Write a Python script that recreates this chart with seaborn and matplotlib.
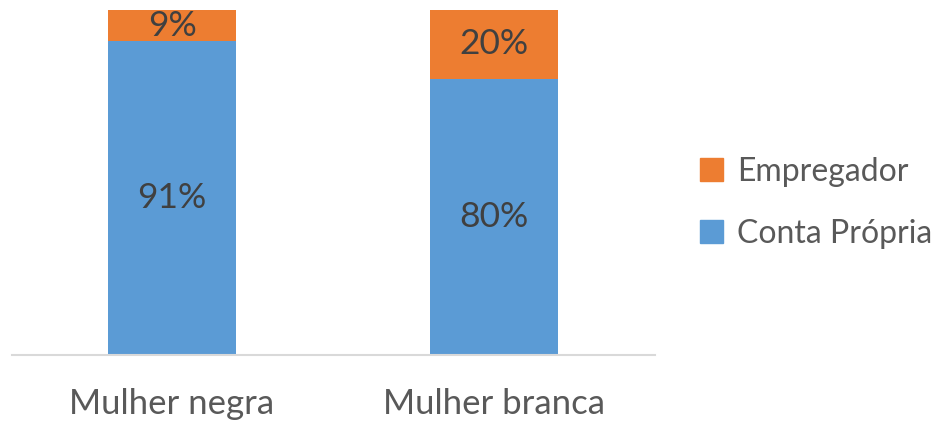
import pandas as pd
import matplotlib.pyplot as plt
import seaborn as sns
from matplotlib.patches import Patch

# Data
categories = ["Mulher negra", "Mulher branca"]
conta_propria = [91, 80]
empregador = [9, 20]

blue = "#5B9BD5"
orange = "#ED7D31"

sns.set_theme(style="white")
plt.rcParams["font.family"] = ["Lato", "DejaVu Sans"]

df = pd.DataFrame({
    "categoria": categories,
    "conta": conta_propria,
    "empregador": empregador,
})
df["total"] = df["conta"] + df["empregador"]

fig = plt.figure(figsize=(9.45, 4.22), dpi=100)
ax = fig.add_axes([12 / 945, 67 / 422, 643 / 945, 345 / 422])

# Stacked bars: total in orange, own-account on top in blue
sns.barplot(data=df, x="categoria", y="total", color=orange, width=0.4,
            saturation=1, linewidth=0, ax=ax)
sns.barplot(data=df, x="categoria", y="conta", color=blue, width=0.4,
            saturation=1, linewidth=0, ax=ax)

for i, row in df.iterrows():
    ax.text(i, row["conta"] / 2, f"{row['conta']}%", ha="center", va="center",
            fontsize=25.5, color="#404040")
    ax.text(i, row["conta"] + row["empregador"] / 2, f"{row['empregador']}%",
            ha="center", va="center", fontsize=25.5, color="#404040")

ax.set_xlim(-0.497, 1.5)
ax.set_ylim(0, 100)
ax.set_xlabel("")
ax.set_ylabel("")
ax.set_yticks([])
for side in ["top", "right", "left"]:
    ax.spines[side].set_visible(False)
ax.spines["bottom"].set_color("#D9D9D9")
ax.spines["bottom"].set_linewidth(1.5)
ax.tick_params(axis="x", length=0, pad=24, labelsize=25, labelcolor="#595959")

handles = [Patch(color=orange, label="Empregador"),
           Patch(color=blue, label="Conta Própria")]
fig.legend(handles=handles, loc="center left", bbox_to_anchor=(0.741, 0.52),
           frameon=False, fontsize=23, labelcolor="#595959",
           borderpad=0, borderaxespad=0,
           handlelength=0.7, handleheight=0.7, handletextpad=0.45,
           labelspacing=1.0)

fig.savefig("out.png", dpi=100)
